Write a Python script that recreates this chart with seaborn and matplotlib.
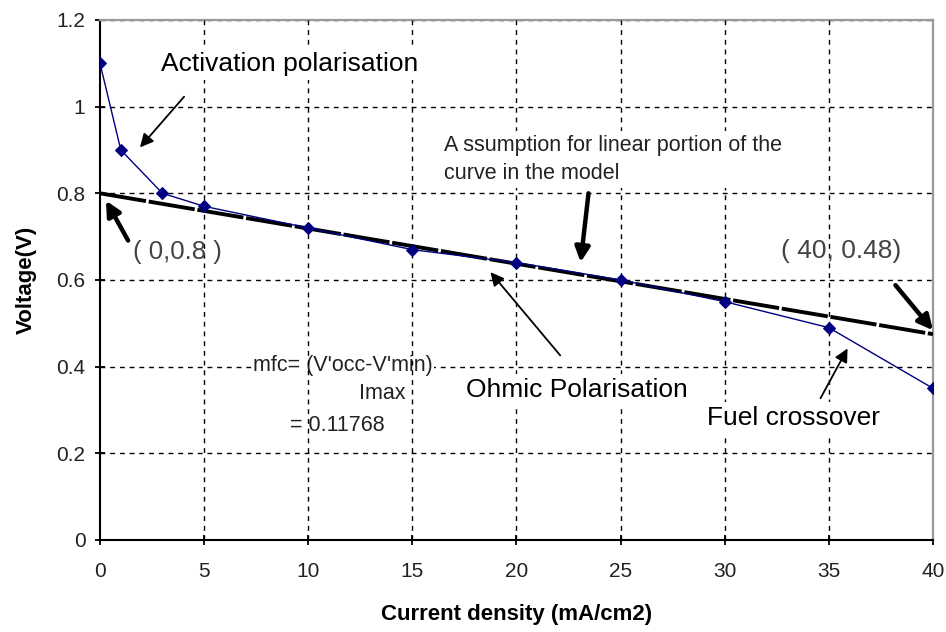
import matplotlib
matplotlib.use("Agg")
import matplotlib.pyplot as plt
import seaborn as sns
import pandas as pd

# ---- data ----
current_density = [0, 1, 3, 5, 10, 15, 20, 25, 30, 35, 40]
voltage = [1.10, 0.90, 0.80, 0.77, 0.72, 0.67, 0.64, 0.60, 0.55, 0.49, 0.35]
linear_current = [0, 40]
linear_voltage = [0.80, 0.475]
x_ticks = [0, 5, 10, 15, 20, 25, 30, 35, 40]
y_ticks = [0, 0.2, 0.4, 0.6, 0.8, 1.0, 1.2]
y_tick_labels = ["0", "0.2", "0.4", "0.6", "0.8", "1", "1.2"]

measured = pd.DataFrame({"current": current_density, "voltage": voltage})
model = pd.DataFrame({"current": linear_current, "voltage": linear_voltage})

sns.set_style("ticks")
plt.rcParams["font.family"] = ["Liberation Sans", "DejaVu Sans"]

fig = plt.figure(figsize=(9.46, 6.32), dpi=100)
ax = fig.add_axes([0.1057, 0.1456, 0.8805, 0.8228])

# linear model line (thick black)
sns.lineplot(data=model, x="current", y="voltage", ax=ax, color="black",
             lw=2.8, linestyle=(0, (12, 0.7)), zorder=6)
# measured polarisation curve
sns.lineplot(data=measured, x="current", y="voltage", ax=ax, color="#000080",
             lw=1.0, marker="D", markersize=6, markeredgecolor="#000080",
             zorder=7)

ax.set_xlim(0, 40)
ax.set_ylim(0, 1.2)
ax.set_xticks(x_ticks)
ax.set_xticklabels([str(t) for t in x_ticks])
ax.set_yticks(y_ticks)
ax.set_yticklabels(y_tick_labels)

# gridlines
ax.grid(axis="y", color="black", lw=1.0, linestyle=(0, (3.5, 3.5)))
for t in ax.get_xticks()[1:-1]:
    ax.axvline(t, color="black", lw=1.0, linestyle=(0, (3.5, 3.5)), zorder=4)

for s in ["left", "bottom"]:
    ax.spines[s].set_color("black")
    ax.spines[s].set_linewidth(1.5)
for s in ["top", "right"]:
    ax.spines[s].set_visible(True)
    ax.spines[s].set_color("#9a9a9a")
    ax.spines[s].set_linewidth(1.6)

ax.tick_params(direction="inout", length=7, width=1.3, labelsize=15,
               labelcolor="#222222", color="black")
ax.tick_params(axis="x", pad=12)
ax.tick_params(axis="y", pad=7)

ax.set_xlabel("Current density (mA/cm2)", fontsize=16, fontweight="bold",
              labelpad=17, color="black")
ax.set_ylabel("Voltage(V)", fontsize=16, fontweight="bold", labelpad=14,
              color="black")

white = dict(fc="white", ec="none", pad=3)
thin = dict(arrowstyle="-|>", color="black", lw=1.3, mutation_scale=20,
            shrinkA=0, shrinkB=0)
thick = dict(arrowstyle="-|>", color="black", lw=3.2, mutation_scale=22,
             shrinkA=0, shrinkB=0)

# Activation polarisation
ax.text(9.1, 1.099, "Activation polarisation", ha="center", va="center",
        fontsize=19, color="black", bbox=white, zorder=8)
ax.annotate("", xy=(1.92, 0.906), xytext=(4.04, 1.023), arrowprops=thin,
            zorder=9)

# (0, 0.8)
ax.text(3.7, 0.664, "( 0,0.8 )", ha="center", va="center", fontsize=18.5,
        color="#444444", zorder=8)
ax.annotate("", xy=(0.29, 0.783), xytext=(1.35, 0.691), arrowprops=thick,
            zorder=9)

# Assumption text
ax.text(16.5, 0.878, "A ssumption for linear portion of the\ncurve in the model",
        ha="left", va="center", fontsize=15.5, color="#222222",
        linespacing=1.45, bbox=white, zorder=8)
ax.annotate("", xy=(23.08, 0.641), xytext=(23.46, 0.800), arrowprops=thick,
            zorder=9)

# (40, 0.48)
ax.text(35.6, 0.668, "( 40, 0.48)", ha="center", va="center", fontsize=19,
        color="#444444", zorder=8)
ax.annotate("", xy=(40.0, 0.484), xytext=(38.2, 0.588), arrowprops=thick,
            zorder=9, annotation_clip=False)

# Ohmic Polarisation
ax.text(22.9, 0.346, "Ohmic Polarisation", ha="center", va="center",
        fontsize=19, color="black", bbox=white, zorder=8)
ax.annotate("", xy=(18.75, 0.618), xytext=(22.1, 0.426), arrowprops=thin,
            zorder=9)

# Fuel crossover
ax.text(33.3, 0.281, "Fuel crossover", ha="center", va="center",
        fontsize=19, color="black", bbox=white, zorder=8)
ax.annotate("", xy=(35.9, 0.442), xytext=(34.6, 0.327), arrowprops=thin,
            zorder=9)

# mfc formula
ax.text(7.36, 0.403, "mfc= (V'occ-V'min)", ha="left", va="center",
        fontsize=15.5, color="#222222", bbox=dict(fc="white", ec="none", pad=1),
        zorder=3)
ax.text(14.66, 0.338, "Imax", ha="right", va="center", fontsize=15.5,
        color="#222222", zorder=3)
ax.text(9.13, 0.265, "= 0.11768", ha="left", va="center", fontsize=15.5,
        color="#222222", zorder=3)

fig.savefig("out.png", dpi=100)
